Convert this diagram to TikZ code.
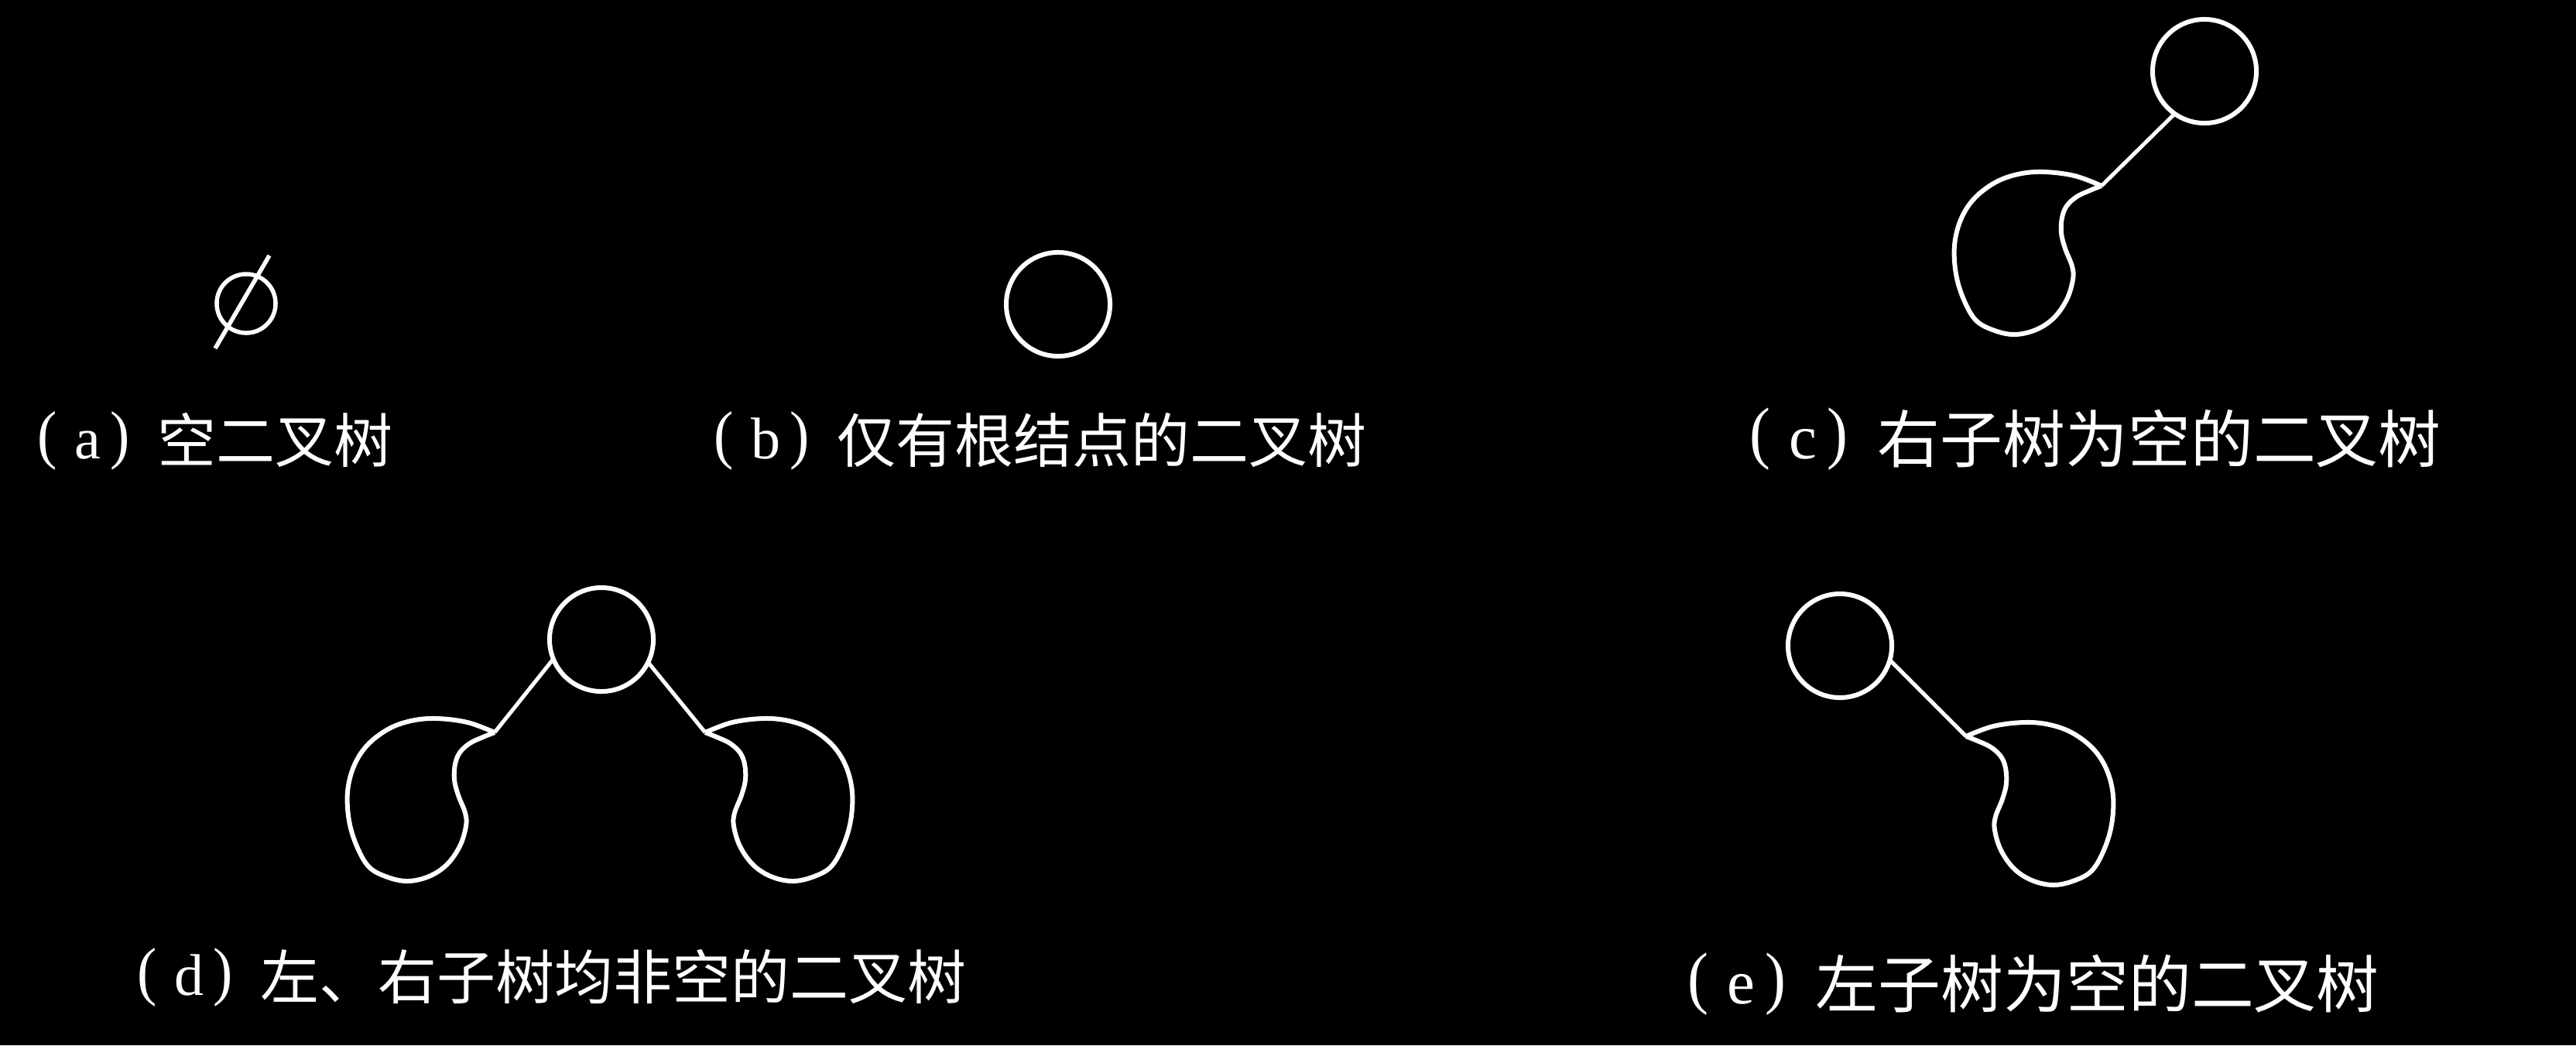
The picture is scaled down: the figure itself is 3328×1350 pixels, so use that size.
\documentclass[tikz,border=0pt]{standalone}
\usepackage{fontspec}
\usepackage{graphicx}
\setmainfont{Liberation Serif}
\newfontfamily\cjk{Noto Sans CJK SC}
\newcommand\tallparen[1]{\raisebox{0.1em}{\scalebox{1}[1.1]{#1}}}
\newcommand\figlbl[2]{\tallparen{(}\hspace{0.29em}\raisebox{0.06em}{#1}\hspace{0.17em}\tallparen{)}\hspace{0.47em}{\cjk #2}}
\tikzset{
  treenode/.style={draw=white, circle, line width=0.06cm, minimum size=1.34cm, inner sep=0pt, outer sep=0pt},
  emptynode/.style={draw=white, circle, line width=0.055cm, minimum size=0.76cm, inner sep=0pt, outer sep=0pt},
  edge/.style={draw=white, line width=0.05cm},
  lbl/.style={text=white, inner sep=0pt, anchor=base west, font=\fontsize{21.6pt}{26pt}\selectfont},
  lblbig/.style={lbl, font=\fontsize{23pt}{28pt}\selectfont},
  blob/.pic={
    \draw[white, line width=0.06cm, line join=round]
      plot[smooth, tension=0.6] coordinates {
        (0,0) (-35,-13) (-75,-18) (-108,-15) (-138,-4) (-165,17) (-182,44)
        (-190,77) (-188,114) (-178,147) (-162,174) (-138,187) (-112,192)
        (-85,186) (-62,171) (-45,147) (-37,121) (-38,104) (-47,81) (-52,61)
        (-51,41) (-45,26) (-32,14) (-15,6) (0,0)};
  }
}
\begin{document}
\begin{tikzpicture}[x=0.01cm,y=-0.01cm]
\fill[black] (0,0) rectangle (3328,1350);
% (a) empty tree symbol
\node[emptynode] (empty) at (318,392) {};
\draw[edge, line width=0.055cm] (348,330) -- (278,450);
% (b) root only
\node[treenode] (broot) at (1367,393) {};
% (c) right subtree empty
\node[treenode] (croot) at (2848,92) {};
\coordinate (ccusp) at (2715,240);
\pic at (ccusp) {blob};
\draw[edge] (croot.-125) -- (ccusp);
% (d) both subtrees non-empty
\node[treenode] (droot) at (777,826) {};
\coordinate (dlcusp) at (639,946);
\coordinate (drcusp) at (911,946);
\pic at (dlcusp) {blob};
\pic[xscale=-1] at (drcusp) {blob};
\draw[edge] (droot.-158) -- (dlcusp);
\draw[edge] (droot.-26) -- (drcusp);
% (e) left subtree empty
\node[treenode] (eroot) at (2377,834) {};
\coordinate (ecusp) at (2540,951);
\pic[xscale=-1] at (ecusp) {blob};
\draw[edge] (eroot.-16) -- (ecusp);
% labels
\node[lbl] (la) at (48,597) {\figlbl{a}{空二叉树}};
\node[lbl] (lb) at (922,597) {\figlbl{b}{仅有根结点的二叉树}};
\node[lblbig] (lc) at (2260,597) {\figlbl{c}{右子树为空的二叉树}};
\node[lbl] (ld) at (177,1290) {\figlbl{d}{左、右子树均非空的二叉树}};
\node[lblbig] (le) at (2180,1301) {\figlbl{e}{左子树为空的二叉树}};
\end{tikzpicture}
\end{document}
